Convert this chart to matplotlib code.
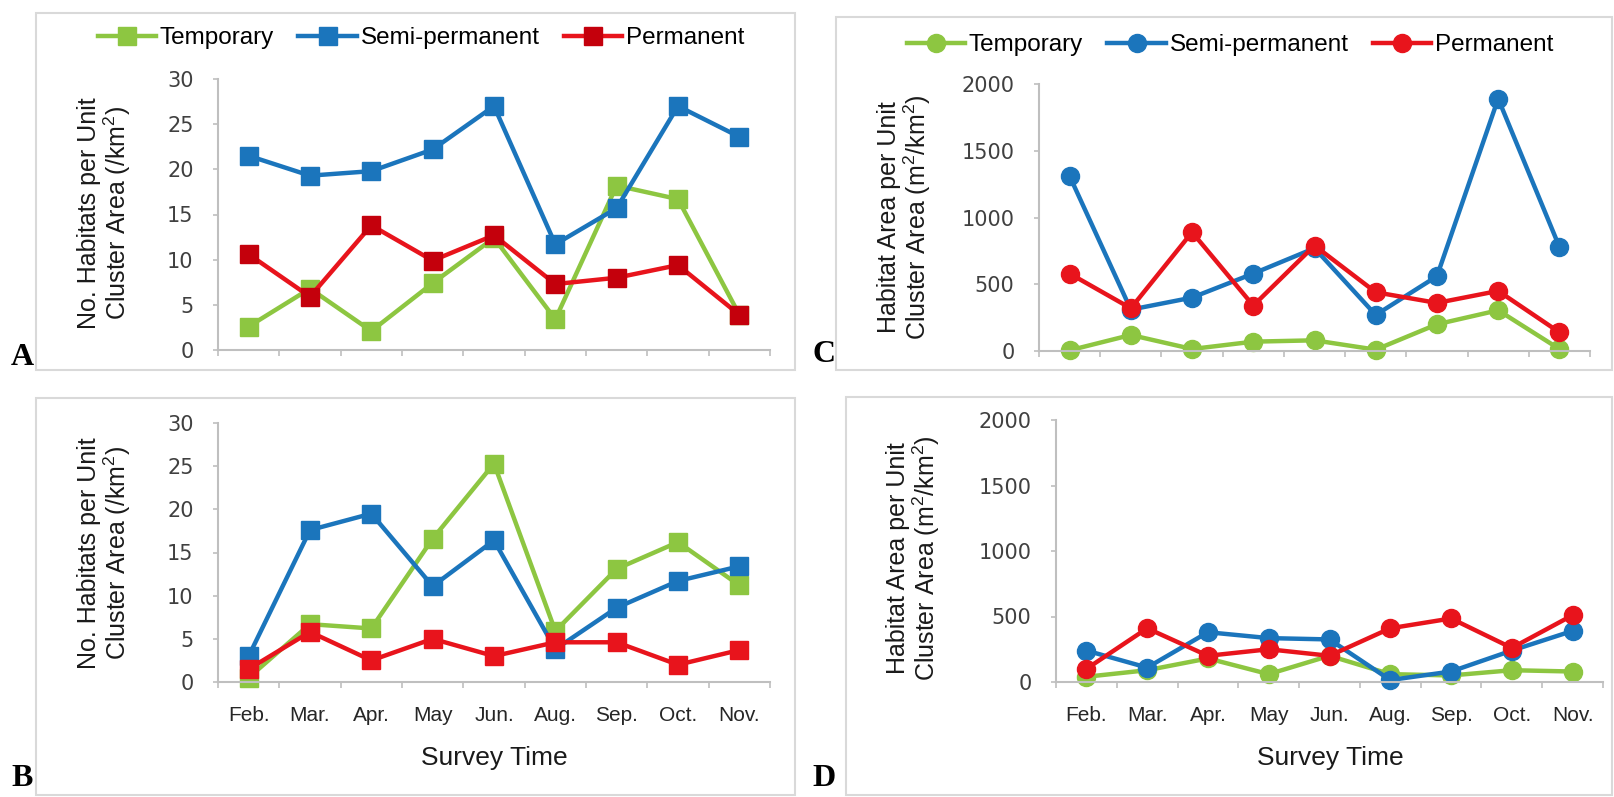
import numpy as np
import matplotlib
matplotlib.use("Agg")
import matplotlib.pyplot as plt
from matplotlib.patches import Rectangle

months = ["Feb.", "Mar.", "Apr.", "May", "Jun.", "Aug.", "Sep.", "Oct.", "Nov."]
series = ["Temporary", "Semi-permanent", "Permanent"]

# number of habitats per unit cluster area (/km2)
a_temp = [2.6, 6.8, 2.1, 7.4, 12.4, 3.4, 18.2, 16.7, 3.9]
a_semi = [21.5, 19.3, 19.8, 22.2, 27.0, 11.7, 15.7, 27.0, 23.6]
a_perm = [10.6, 5.9, 13.8, 9.9, 12.7, 7.3, 8.0, 9.4, 3.9]

b_temp = [0.5, 6.7, 6.2, 16.6, 25.3, 5.9, 13.1, 16.2, 11.2]
b_semi = [3.0, 17.6, 19.5, 11.1, 16.4, 3.8, 8.6, 11.7, 13.4]
b_perm = [1.5, 5.8, 2.5, 5.0, 3.0, 4.6, 4.6, 2.0, 3.7]

# habitat area per unit cluster area (m2/km2)
c_temp = [5, 120, 15, 70, 80, 10, 200, 305, 15]
c_semi = [1310, 310, 400, 580, 770, 270, 560, 1890, 780]
c_perm = [580, 320, 890, 340, 790, 440, 360, 450, 140]

d_temp = [40, 90, 180, 60, 200, 60, 50, 90, 80]
d_semi = [240, 110, 380, 335, 325, 15, 80, 240, 390]
d_perm = [100, 410, 200, 250, 200, 410, 485, 260, 510]

GREEN, BLUE, RED = "#8DC641", "#1B75BC", "#E8141C"
DARKRED = "#C4000C"
GREY = "#BFBFBF"

W, H = 1614, 797
fig = plt.figure(figsize=(W / 100, H / 100), dpi=100)
fig.patch.set_facecolor("white")


def px_axes(l, t, r, b):
    return fig.add_axes([l / W, 1 - b / H, (r - l) / W, (b - t) / H])


def frame(l, t, r, b):
    fig.patches.append(Rectangle((l / W, 1 - b / H), (r - l) / W, (b - t) / H,
                                 transform=fig.transFigure, fill=False,
                                 ec="#D9D9D9", lw=1.5, zorder=0))


def ftext(x, y, s, **kw):
    return fig.text(x / W, 1 - y / H, s, **kw)


def draw(ax, data, marker, ms, ymax, step, mcolors, show_months):
    x = np.arange(len(months))
    handles = []
    for vals, c, mc, name in zip(data, [GREEN, BLUE, RED], mcolors, series):
        h, = ax.plot(x, vals, color=c, lw=3.2, marker=marker, ms=ms,
                     mfc=mc, mec=mc, clip_on=False, label=name)
        handles.append(h)
    ax.set_xlim(-0.5, len(months) - 0.5)
    ax.set_ylim(0, ymax)
    ax.set_yticks(np.arange(0, ymax + 1, step))
    ax.set_xticks(x)
    ax.set_xticks(np.arange(-0.5, len(months), 1), minor=True)
    if show_months:
        ax.set_xticklabels(months, family="Liberation Sans", fontsize=15, color="#262626")
    else:
        ax.set_xticklabels([])
    ax.tick_params(axis="x", which="major", length=0, pad=17)
    ax.tick_params(axis="x", which="minor", length=4.5, width=1.2, color=GREY, direction="out")
    ax.tick_params(axis="y", length=3.6, width=1.2, color=GREY, pad=14,
                   labelsize=15, labelcolor="#404040")
    for sp in ["top", "right"]:
        ax.spines[sp].set_visible(False)
    for sp in ["left", "bottom"]:
        ax.spines[sp].set_color(GREY)
        ax.spines[sp].set_linewidth(1.5)
    ax.set_facecolor("none")
    return handles


# panel frames
frame(36, 13, 795, 370)
frame(36, 398, 795, 795)
frame(836, 17, 1612, 370)
frame(846, 397, 1612, 795)

axA = px_axes(218, 79, 770, 350)
axB = px_axes(218, 423, 770, 682)
axC = px_axes(1039, 84, 1590, 351)
axD = px_axes(1056, 420, 1603, 682)

hA = draw(axA, [a_temp, a_semi, a_perm], "s", 13, 30, 5, [GREEN, BLUE, DARKRED], False)
draw(axB, [b_temp, b_semi, b_perm], "s", 13, 30, 5, [GREEN, BLUE, RED], True)
hC = draw(axC, [c_temp, c_semi, c_perm], "o", 13, 2000, 500, [GREEN, BLUE, RED], False)
draw(axD, [d_temp, d_semi, d_perm], "o", 13, 2000, 500, [GREEN, BLUE, RED], True)

for handles, cx, cy in [(hA, 421, 38), (hC, 1230, 45)]:
    fig.legend(handles=handles, loc="center", bbox_to_anchor=(cx / W, 1 - cy / H),
               ncol=3, frameon=False, handlelength=2.4, handletextpad=0.15,
               columnspacing=1.0, prop={"family": "Liberation Sans", "size": 17.5})

ylab_count = "No. Habitats per Unit\nCluster Area (/km$^\\mathregular{2}$)"
ylab_area = "Habitat Area per Unit\nCluster Area (m$^\\mathregular{2}$/km$^\\mathregular{2}$)"
lab_kw = dict(rotation=90, ha="center", va="center", multialignment="center",
              family="Liberation Sans", fontsize=18, color="#1a1a1a", linespacing=1.0)
ftext(105, 213, ylab_count, **lab_kw)
ftext(105, 553, ylab_count, **lab_kw)
ftext(905, 217, ylab_area, **lab_kw)
ftext(914, 558, ylab_area, **lab_kw)

xl_kw = dict(ha="center", va="center", family="Liberation Sans", fontsize=19, color="#1a1a1a")
ftext(494, 758, "Survey Time", **xl_kw)
ftext(1330, 758, "Survey Time", **xl_kw)

letter_kw = dict(ha="center", va="center", family="Liberation Serif", weight="bold",
                 fontsize=23, color="black")
ftext(22, 358, "A", **letter_kw)
ftext(22, 779, "B", **letter_kw)
ftext(824, 354, "C", **letter_kw)
ftext(824, 778, "D", **letter_kw)

fig.savefig("out.png", dpi=100, facecolor="white")
